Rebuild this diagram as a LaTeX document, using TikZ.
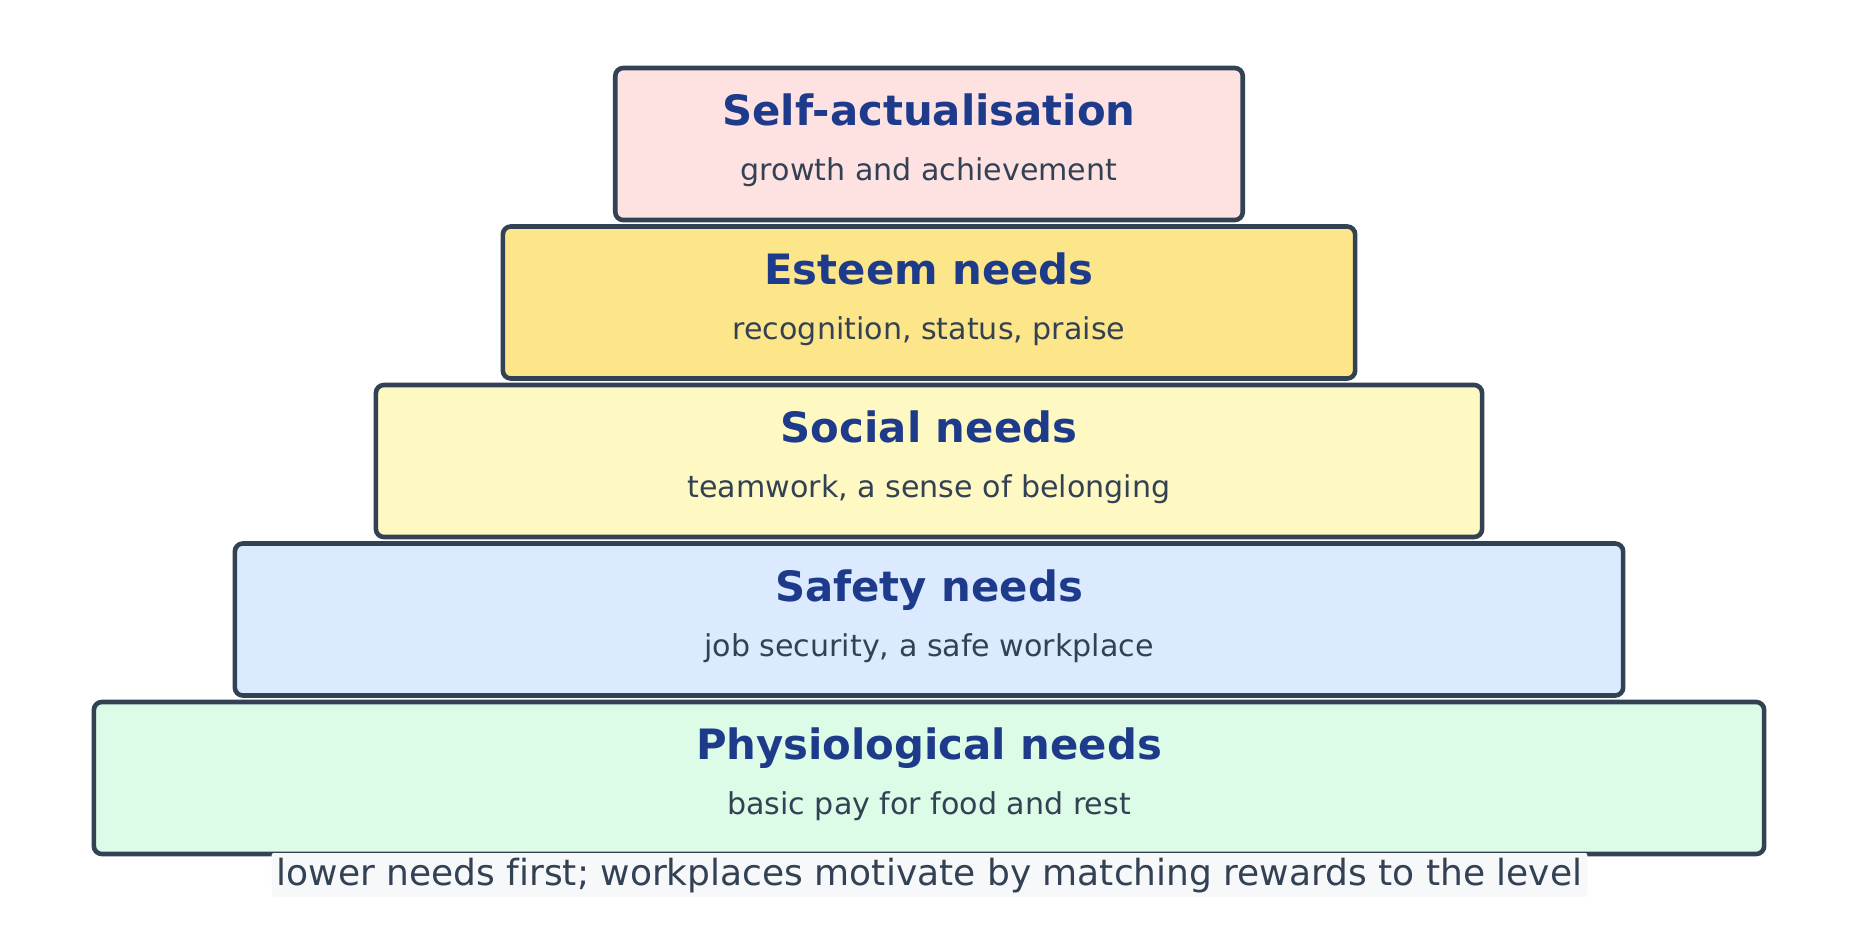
\documentclass[tikz,border=0pt]{standalone}
\usepackage{fontspec}
\setmainfont[Ligatures=NoCommon]{DejaVu Sans}
\usepackage{tikz}
\definecolor{edge}{HTML}{334155}
\definecolor{titleblue}{HTML}{1E3A8A}
\definecolor{subgrey}{HTML}{334155}
\definecolor{selfpink}{HTML}{FEE2E2}
\definecolor{esteemyellow}{HTML}{FDE68A}
\definecolor{socialyellow}{HTML}{FEF9C3}
\definecolor{safetyblue}{HTML}{DBEAFE}
\definecolor{physiogreen}{HTML}{DCFCE7}
\definecolor{notebg}{HTML}{F6F8FA}
\tikzset{
  level/.style={draw=edge, line width=2.3pt, rounded corners=4pt, minimum height=76pt, inner sep=0pt},
  title/.style={anchor=base, inner sep=0pt, text=titleblue, font=\fontsize{20.9}{24}\selectfont\bfseries},
  subtitle/.style={anchor=base, inner sep=0pt, text=subgrey, font=\fontsize{15.05}{18}\selectfont},
  note/.style={fill=notebg, rounded corners=1pt, text=subgrey, font=\fontsize{18}{21}\selectfont, inner xsep=2.5pt, inner ysep=1pt, text height=15pt, text depth=5pt}
}
\begin{document}
\begin{tikzpicture}[x=0.5pt, y=-0.5pt]
      \useasboundingbox (0, 0) rectangle (1859, 934);
      \node[level, fill=selfpink, minimum width=313.75pt] (self) at (929, 144) {};
      \node[title] (selftitle) at (929, 125.8) {Self-actualisation};
      \node[subtitle] (selfsub) at (929, 180.8) {growth and achievement};
      \node[level, fill=esteemyellow, minimum width=426.15pt] (esteem) at (929, 302.5) {};
      \node[title] (esteemtitle) at (929, 284.3) {Esteem needs};
      \node[subtitle] (esteemsub) at (929, 339.3) {recognition, status, praise};
      \node[level, fill=socialyellow, minimum width=553.1pt] (social) at (929, 461) {};
      \node[title] (socialtitle) at (929, 442.8) {Social needs};
      \node[subtitle] (socialsub) at (929, 497.8) {teamwork, a sense of belonging};
      \node[level, fill=safetyblue, minimum width=694.15pt] (safety) at (929, 619.5) {};
      \node[title] (safetytitle) at (929, 601.3) {Safety needs};
      \node[subtitle] (safetysub) at (929, 656.3) {job security, a safe workplace};
      \node[level, fill=physiogreen, minimum width=835.15pt] (physio) at (929, 778) {};
      \node[title] (physiotitle) at (929, 759.8) {Physiological needs};
      \node[subtitle] (physiosub) at (929, 814.8) {basic pay for food and rest};
      \node[note] (note) at (929.5, 875) {lower needs first; workplaces motivate by matching rewards to the level};
    \end{tikzpicture}
\end{document}
